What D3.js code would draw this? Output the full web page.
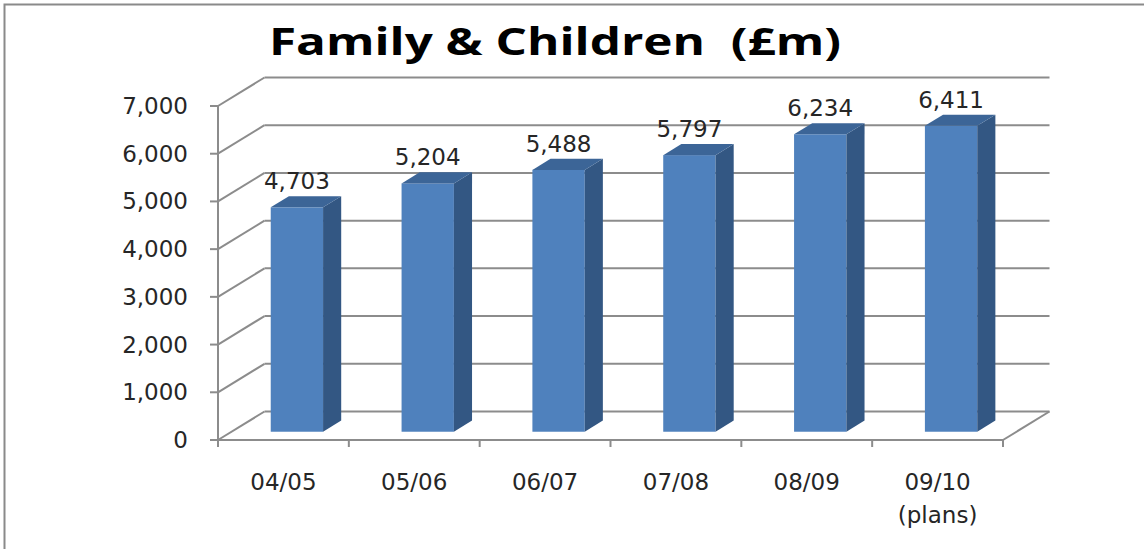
<!DOCTYPE html>
<html>
<head>
<meta charset="utf-8">
<script src="https://cdn.jsdelivr.net/npm/d3@7"></script>
<style>
  html, body { margin: 0; background: #fff; overflow: hidden; }
  svg { display: block; }
</style>
</head>
<body>
<script>
var categories = ['04/05', '05/06', '06/07', '07/08', '08/09', '09/10'];
var subLabels = ['', '', '', '', '', '(plans)'];
var values = [4703, 5204, 5488, 5797, 6234, 6411];
var tickValues = [0, 1000, 2000, 3000, 4000, 5000, 6000, 7000];

var w = 1144, h = 549;
var plotLeft = 218, plotRight = 1003, plotBase = 440, plotTop = 106;
// depth offset of the back wall and where the bars sit in depth
var depthX = 46.5, depthY = -28.5,
  barD0 = 0.29, barD1 = 0.68;

var svg = d3.select('body')
  .append('svg')
  .attr('width', w)
  .attr('height', h);

// outer frame (only top and left edges are in view)
svg.append('path')
  .attr('d', 'M4.5,' + h + 'V4.5H' + w)
  .attr('fill', 'none')
  .attr('stroke', '#8a8a8a')
  .attr('stroke-width', 2);

var x = d3.scaleBand()
  .domain(categories)
  .range([plotLeft, plotRight])
  .paddingInner(0.6)
  .paddingOuter(0.3);

var y = d3.scaleLinear()
  .domain([0, 7000])
  .range([plotBase, plotTop]);

var dx = d3.scaleLinear().domain([0, 1]).range([0, depthX]);
var dy = d3.scaleLinear().domain([0, 1]).range([0, depthY]);

var gridColor = '#8c8c8c';

// back wall gridlines
svg.selectAll('line.grid').data(tickValues)
  .enter()
  .append('line')
  .attr('class', 'grid')
  .attr('x1', plotLeft + dx(1))
  .attr('x2', plotRight + dx(1))
  .attr('y1', function (d) { return y(d) + dy(1); })
  .attr('y2', function (d) { return y(d) + dy(1); })
  .attr('stroke', gridColor)
  .attr('stroke-width', 2);

// side wall diagonals
svg.selectAll('line.side').data(tickValues)
  .enter()
  .append('line')
  .attr('class', 'side')
  .attr('x1', plotLeft)
  .attr('x2', plotLeft + dx(1))
  .attr('y1', function (d) { return y(d); })
  .attr('y2', function (d) { return y(d) + dy(1); })
  .attr('stroke', gridColor)
  .attr('stroke-width', 2);

// floor right edge
svg.append('line')
  .attr('x1', plotRight).attr('y1', y(0))
  .attr('x2', plotRight + dx(1)).attr('y2', y(0) + dy(1))
  .attr('stroke', gridColor)
  .attr('stroke-width', 2);

// bars
var bars = svg.selectAll('g.bar').data(values)
  .enter()
  .append('g')
  .attr('class', 'bar');

function bx0(d, i) { return x(categories[i]) + dx(barD0); }
function bx1(d, i) { return bx0(d, i) + x.bandwidth(); }
function byTop(d) { return y(d) + dy(barD0); }
function byBot() { return y(0) + dy(barD0); }
var ddx = dx(barD1) - dx(barD0), ddy = dy(barD1) - dy(barD0);

bars.append('rect')
  .attr('x', bx0)
  .attr('y', byTop)
  .attr('width', x.bandwidth())
  .attr('height', function (d) { return byBot() - byTop(d); })
  .attr('fill', '#4f81bd');

bars.append('polygon')
  .attr('points', function (d, i) {
    var x1 = bx1(d, i), t = byTop(d), b = byBot();
    return [[x1, t], [x1 + ddx, t + ddy], [x1 + ddx, b + ddy], [x1, b]].join(' ');
  })
  .attr('fill', '#335783');

bars.append('polygon')
  .attr('points', function (d, i) {
    var x0 = bx0(d, i), x1 = bx1(d, i), t = byTop(d);
    return [[x0, t], [x1, t], [x1 + ddx, t + ddy], [x0 + ddx, t + ddy]].join(' ');
  })
  .attr('fill', '#3c6597');

// front axes
svg.append('line')
  .attr('x1', plotLeft).attr('x2', plotLeft)
  .attr('y1', y(7000)).attr('y2', plotBase + 7)
  .attr('stroke', gridColor)
  .attr('stroke-width', 2);

svg.append('line')
  .attr('x1', plotLeft - 8).attr('x2', plotRight)
  .attr('y1', plotBase).attr('y2', plotBase)
  .attr('stroke', gridColor)
  .attr('stroke-width', 2);

svg.selectAll('line.ytick').data(tickValues)
  .enter()
  .append('line')
  .attr('class', 'ytick')
  .attr('x1', plotLeft - 8).attr('x2', plotLeft)
  .attr('y1', function (d) { return y(d); })
  .attr('y2', function (d) { return y(d); })
  .attr('stroke', gridColor)
  .attr('stroke-width', 2);

svg.selectAll('line.xtick').data(categories)
  .enter()
  .append('line')
  .attr('class', 'xtick')
  .attr('x1', function (d) { return x(d) + x.bandwidth() / 2 + x.step() / 2; })
  .attr('x2', function (d) { return x(d) + x.bandwidth() / 2 + x.step() / 2; })
  .attr('y1', plotBase).attr('y2', plotBase + 7)
  .attr('stroke', gridColor)
  .attr('stroke-width', 2);

var fmt = d3.format(',');
var labelFont = '"DejaVu Sans", sans-serif';

// y tick labels
svg.selectAll('text.ylab').data(tickValues)
  .enter()
  .append('text')
  .attr('class', 'ylab')
  .text(function (d) { return fmt(d); })
  .attr('x', 188)
  .attr('y', function (d) { return y(d) + 8; })
  .attr('text-anchor', 'end')
  .attr('font-family', labelFont)
  .attr('font-size', '23px')
  .attr('fill', '#262626');

// category labels
svg.selectAll('text.xlab').data(categories)
  .enter()
  .append('text')
  .attr('class', 'xlab')
  .text(function (d) { return d; })
  .attr('x', function (d) { return x(d) + x.bandwidth() / 2; })
  .attr('y', 490)
  .attr('text-anchor', 'middle')
  .attr('font-family', labelFont)
  .attr('font-size', '23px')
  .attr('fill', '#262626');

svg.selectAll('text.xsub').data(subLabels)
  .enter()
  .append('text')
  .attr('class', 'xsub')
  .text(function (d) { return d; })
  .attr('x', function (d, i) { return x(categories[i]) + x.bandwidth() / 2; })
  .attr('y', 523)
  .attr('text-anchor', 'middle')
  .attr('font-family', labelFont)
  .attr('font-size', '23px')
  .attr('fill', '#262626');

// value labels above bars
svg.selectAll('text.val').data(values)
  .enter()
  .append('text')
  .attr('class', 'val')
  .text(function (d) { return fmt(d); })
  .attr('x', function (d, i) { return bx0(d, i) + x.bandwidth() / 2; })
  .attr('y', function (d) { return byTop(d) - 18; })
  .attr('text-anchor', 'middle')
  .attr('font-family', labelFont)
  .attr('font-size', '23px')
  .attr('fill', '#262626');

// title
svg.append('text')
  .text('Family & Children  (£m)')
  .attr('x', 555)
  .attr('y', 55)
  .attr('text-anchor', 'middle')
  .style('white-space', 'pre')
  .attr('font-family', '"Open Sans", Lato, sans-serif')
  .attr('font-weight', 'bold')
  .attr('font-size', '38px')
  .attr('textLength', 572)
  .attr('lengthAdjust', 'spacingAndGlyphs')
  .attr('fill', '#000');
</script>
</body>
</html>
